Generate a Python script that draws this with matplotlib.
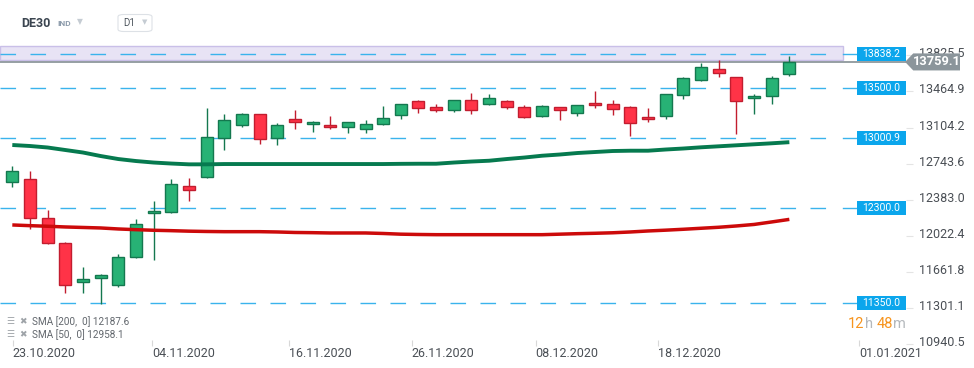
import numpy as np
import matplotlib.pyplot as plt
from matplotlib.patches import Rectangle, Polygon, FancyBboxPatch
from matplotlib.transforms import ScaledTranslation

plt.rcParams['font.family'] = ['Roboto', 'DejaVu Sans']

# daily candles DE30, 23.10.2020 .. 22.12.2020
opens = [12558, 12588, 12199, 11949, 11560, 11600, 11530, 11809, 12248, 12258,
         12518, 12608, 12997, 13127, 13236, 12997, 13187, 13137, 13127, 13107,
         13087, 13137, 13226, 13366, 13306, 13276, 13376, 13336, 13366, 13306,
         13216, 13306, 13246, 13346, 13336, 13306, 13207, 13216, 13426, 13576,
         13686, 13606, 13396, 13416, 13636]
highs = [12720, 12671, 12281, 11959, 11712, 11643, 11839, 12192, 12371, 12591,
         12601, 13299, 13239, 13249, 13240, 13147, 13279, 13167, 13219, 13160,
         13177, 13316, 13340, 13376, 13336, 13380, 13449, 13439, 13376, 13326,
         13326, 13310, 13330, 13466, 13376, 13316, 13296, 13440, 13606, 13748,
         13775, 13610, 13436, 13616, 13815]
lows = [12514, 12095, 11945, 11456, 11456, 11340, 11515, 11805, 11785, 12255,
        12374, 12600, 12883, 13107, 12943, 12933, 13087, 13057, 13087, 13047,
        13047, 13130, 13192, 13246, 13256, 13256, 13236, 13330, 13286, 13197,
        13210, 13176, 13216, 13296, 13226, 13015, 13157, 13192, 13392, 13570,
        13606, 13043, 13236, 13336, 13616]
closes = [12668, 12199, 11949, 11530, 11590, 11630, 11809, 12139, 12268, 12538,
          12478, 13007, 13177, 13236, 12987, 13127, 13157, 13157, 13107, 13157,
          13137, 13197, 13336, 13296, 13276, 13376, 13276, 13396, 13306, 13207,
          13316, 13276, 13326, 13326, 13286, 13147, 13187, 13436, 13596, 13705,
          13646, 13366, 13416, 13596, 13759.1]

sma50 = [12930, 12920, 12905, 12880, 12855, 12820, 12790, 12770, 12755, 12745,
         12737, 12737, 12740, 12740, 12740, 12740, 12740, 12740, 12740, 12740,
         12740, 12740, 12742, 12743, 12743, 12755, 12765, 12773, 12790, 12805,
         12823, 12835, 12850, 12860, 12870, 12873, 12873, 12885, 12895, 12907,
         12917, 12927, 12937, 12947, 12958.1]
sma200 = [12132, 12125, 12119, 12112, 12107, 12102, 12092, 12085, 12079, 12075,
          12070, 12067, 12065, 12065, 12065, 12062, 12057, 12055, 12052, 12052,
          12052, 12047, 12040, 12037, 12035, 12035, 12035, 12035, 12035, 12035,
          12035, 12040, 12045, 12049, 12054, 12062, 12072, 12080, 12089, 12099,
          12109, 12122, 12137, 12162, 12187.6]

levels = [13838.2, 13500.0, 13000.9, 12300.0, 11350.0]
zone = (13778, 13918)
last_price = 13759.1

yticks = [10940.5, 11301.1, 11661.8, 12022.4, 12383.0, 12743.6, 13104.2, 13464.9, 13825.5]
date_labels = ['23.10.2020', '04.11.2020', '16.11.2020', '26.11.2020',
               '08.12.2020', '18.12.2020', '01.01.2021']
date_pos = [0.02, 7.91, 15.67, 22.62, 29.64, 36.56, 47.96]

G_FILL, G_EDGE = '#27b275', '#14784f'
R_FILL, R_EDGE = '#ff3347', '#c21d2f'
BLUE = '#0ba6ec'
TXT = '#4a4f55'

fig = plt.figure(figsize=(9.74, 3.68), dpi=100)
ax = fig.add_axes([0, 22 / 368, 906 / 974, 306 / 368])
ax.set_xlim(-0.697, 50.606)
ax.set_ylim(10924.0, 13977.9)

# resistance zone and horizontal levels
ax.add_patch(Rectangle((-0.697, zone[0]), 47.74, zone[1] - zone[0],
                       fc='#e8e3f5', ec='#c9bfe8', lw=1, zorder=0))
for lv in levels:
    ax.plot([-0.697, 46.76], [lv, lv], color='#3ab3ec', lw=1.0,
            dashes=(11.2, 10.4), zorder=1)
    ax.plot([47.04, 47.83], [lv, lv], color='#3ab3ec', lw=1.0, zorder=1)
    ax.add_patch(Rectangle((47.83, lv - 70), 2.776, 140, fc=BLUE, ec='none', zorder=6))
    ax.text(49.22, lv, f'{lv:.1f}', color='white', fontsize=7.5,
            ha='center', va='center', zorder=7)

ax.axhline(last_price, color='#8e979c', lw=1.3, zorder=1)

# candles
for i in range(len(opens)):
    o, h, l, c = opens[i], highs[i], lows[i], closes[i]
    fc, ec = (G_FILL, G_EDGE) if c >= o else (R_FILL, R_EDGE)
    ax.vlines(i, l, h, color=ec, lw=1.0, zorder=3)
    ax.add_patch(Rectangle((i - 0.34, min(o, c)), 0.68, max(abs(c - o), 20),
                           fc=fc, ec=ec, lw=1.0, zorder=4))

x = np.arange(len(sma50))
ax.plot(x, sma50, color='#067a4f', lw=2.8, solid_capstyle='butt', zorder=5)
ax.plot(x, sma200, color='#cc0a0a', lw=2.5, solid_capstyle='butt', zorder=5)

# axes styling
for s in ax.spines.values():
    s.set_visible(False)
ax.yaxis.tick_right()
ax.set_yticks(yticks)
ax.set_yticklabels([f'{v:.1f}' for v in yticks])
ax.tick_params(axis='y', length=5, color='#e4e4e4', pad=4, labelsize=9, labelcolor=TXT)
for lbl in ax.get_yticklabels():
    lbl.set_transform(lbl.get_transform() + ScaledTranslation(0, 0.03, fig.dpi_scale_trans))
ax.set_xticks(date_pos)
ax.set_xticklabels(date_labels, ha='left')
ax.tick_params(axis='x', direction='in', length=4, color='#d8d8d8', pad=1,
               labelsize=9, labelcolor=TXT)

# current price marker
yt = ax.get_yaxis_transform()
fig.add_artist(Polygon([[0.999, last_price], [1.008, last_price + 85], [1.0596, last_price + 85],
                        [1.0596, last_price - 85], [1.008, last_price - 85]],
                       closed=True, fc='#8b959b', ec='none', transform=yt, zorder=5))
fig.text(1.0337, last_price, f'{last_price:.1f}', transform=yt, color='white',
         fontsize=9.3, fontweight='bold', ha='center', va='center', zorder=6)

# header
fig.text(21.5 / 974, 1 - 23.5 / 368, 'DE30', fontsize=9, fontweight='bold',
         color='#3b4550', va='center')
fig.text(57 / 974, 1 - 24 / 368, 'IND', fontsize=6, fontweight='bold',
         color='#8c9bab', va='center')
fig.text(80 / 974, 1 - 21.5 / 368, '▼', fontsize=5.5, color='#c5ccd3',
         ha='center', va='center', family='DejaVu Sans')
fig.add_artist(FancyBboxPatch((118 / 974, 1 - 31.5 / 368), 34 / 974, 17 / 368,
                              boxstyle='round,pad=0,rounding_size=0.006',
                              fc='white', ec='#dde1e6', lw=0.8,
                              transform=fig.transFigure))
fig.text(123 / 974, 1 - 23.5 / 368, 'D1', fontsize=7, color='#4d555d', va='center')
fig.text(145 / 974, 1 - 22 / 368, '▼', fontsize=5, color='#c5ccd3',
         ha='center', va='center', family='DejaVu Sans')

# indicator legend
for yy, txt in [(321.5, 'SMA [200,  0] 12187.6'), (334.5, 'SMA [50,  0] 12958.1')]:
    fig.text(6 / 974, 1 - yy / 368, '☰', fontsize=6.5, color='#9ea3a8',
             va='center', family='DejaVu Sans')
    fig.text(19.5 / 974, 1 - yy / 368, '✖', fontsize=6.5, color='#9ea3a8',
             va='center', family='DejaVu Sans')
    fig.text(32 / 974, 1 - yy / 368, txt, fontsize=7.2, color='#62676d', va='center')

# countdown
for xx, t, col in [(848, '12', '#f7941d'), (864.5, 'h', '#b4b8bc'),
                   (876.5, '48', '#f7941d'), (892.5, 'm', '#b4b8bc')]:
    fig.text(xx / 974, 1 - 324 / 368, t, fontsize=10.5, color=col, va='center')

fig.savefig('out.png', dpi=100, facecolor='white')
